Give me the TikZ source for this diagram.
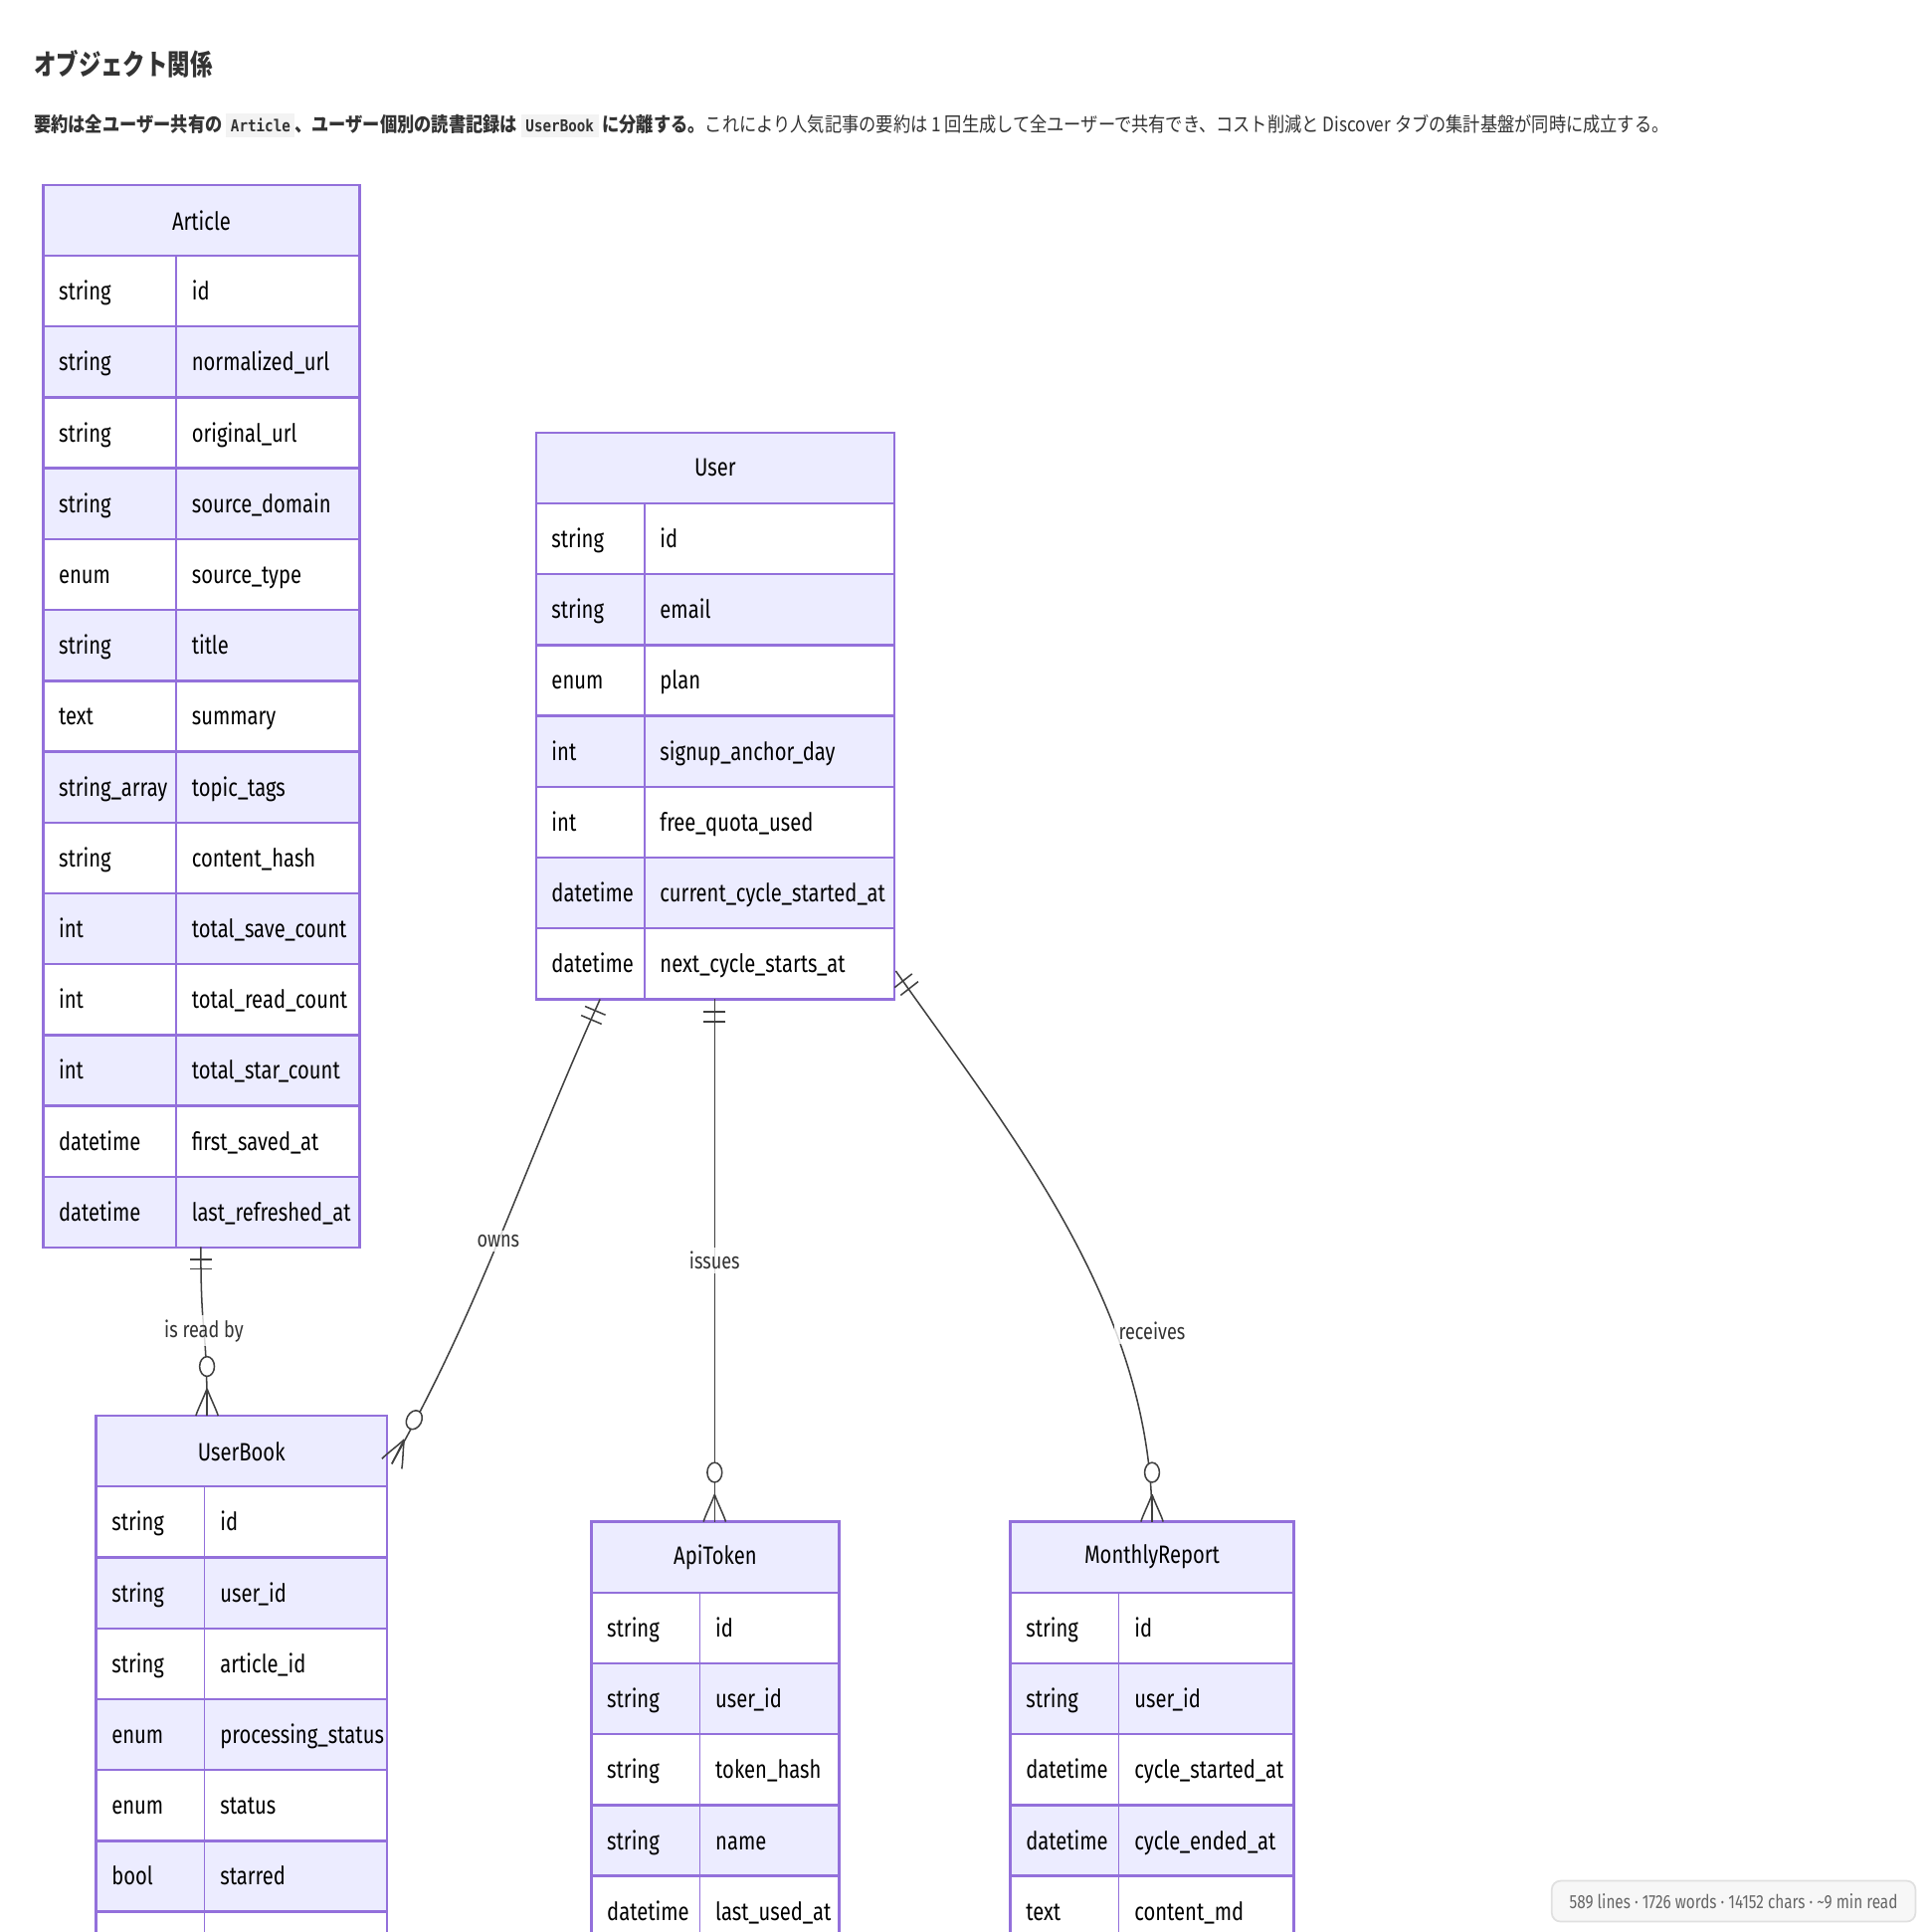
\documentclass[tikz,border=0pt]{standalone}
\usepackage{fontspec}
\setmainfont{Fira Sans}[FakeStretch=0.8]
\setmonofont{DejaVu Sans Mono}
\newfontfamily\cjk{Noto Sans CJK JP}
\usetikzlibrary{calc}
\definecolor{erfill}{HTML}{ECECFF}
\definecolor{erline}{HTML}{9370DB}
\definecolor{codebg}{HTML}{F3F3F3}

% one entity: name, left x, top y, width, split x, rows type/field
\newcommand\erentity[6]{%
  \node[erhead, minimum width=#4*0.01cm] (#1) at (#2+#4/2, #3+28.75) {#1};
  \foreach [count=\i] \t/\f in {#6} {
    \ifodd\i\def\rowfill{white}\else\def\rowfill{erfill}\fi
    \draw[erbox, fill=\rowfill] (#2, #3+57.5*\i) rectangle (#2+#4, #3+57.5*\i+57.5);
    \draw[erline, line width=0.4pt] (#5, #3+57.5*\i) -- (#5, #3+57.5*\i+57.5);
    \node[ertext] at (#2+12, #3+57.5*\i+36) {\t};
    \node[ertext] at (#5+12, #3+57.5*\i+36) {\f};
  }
}
% crow's foot with ring at #1, pointing to angle #2
\newcommand\zeromany[2]{%
  \begin{scope}[shift={#1}, rotate=#2]
    \draw[rel] (0,-9) .. controls (4,-8) and (14,-3) .. (22,0);
    \draw[rel] (0,9) .. controls (4,8) and (14,3) .. (22,0);
    \draw[rel] (0,0) -- (22,0);
    \draw[rel, fill=white] (40,0) ellipse (8 and 6);
  \end{scope}}
% two bars at #1, pointing to angle #2
\newcommand\oneonly[2]{%
  \begin{scope}[shift={#1}, rotate=#2]
    \draw[rel] (10,-9) -- (10,9);
    \draw[rel] (18,-9) -- (18,9);
  \end{scope}}

\begin{document}
\begin{tikzpicture}
    [x = 0.01cm, y = -0.01cm,
    erbox/.style = {draw = erline, line width = 0.55pt},
    erhead/.style = {
       draw = erline,
       fill = erfill,
       line width = 0.55pt,
       minimum height = 0.575cm,
       inner sep = 0pt,
       font = \fontsize{5.8pt}{6pt}\selectfont
    },
    ertext/.style = {anchor = base west, inner sep = 0pt, font = \fontsize{5.8pt}{6pt}\selectfont},
    rel/.style = {draw = black!75, line width = 0.35pt},
    lbl/.style = {fill = white, fill opacity = 0.8, text opacity = 1, inner sep = 1pt,
       font = \fontsize{5.2pt}{5.5pt}\selectfont, text = black!80}]

    \clip (0,0) rectangle (1568,1568);
    \fill[white] (0,0) rectangle (1568,1568);

    \node[anchor = west, inner sep = 0pt, text = black!80] (title) at (27,52)
       {\scalebox{0.78}[1]{\cjk\bfseries\fontsize{6.6pt}{7pt}\selectfont オブジェクト関係}};
    \node[anchor = west, inner sep = 0pt, text = black!80] (intro) at (27,102)
       {\scalebox{0.86}[1]{\cjk\fontsize{4.6pt}{5pt}\selectfont\setlength\fboxsep{1.2pt}%
        \textbf{要約は全ユーザー共有の \colorbox{codebg}{\ttfamily\fontsize{3.8pt}{4pt}\selectfont Article}、ユーザー個別の読書記録は \colorbox{codebg}{\ttfamily\fontsize{3.8pt}{4pt}\selectfont UserBook} に分離する。}これにより人気記事の要約は 1 回生成して全ユーザーで共有でき、コスト削減と Discover タブの集計基盤が同時に成立する。}};

    \erentity{Article}{35}{150}{257}{143}{string/id, string/normalized\_url, string/original\_url,
       string/source\_domain, enum/source\_type, string/title, text/summary, string\_array/topic\_tags,
       string/content\_hash, int/total\_save\_count, int/total\_read\_count, int/total\_star\_count,
       datetime/first\_saved\_at, datetime/last\_refreshed\_at}
    \erentity{User}{435}{351}{291}{523}{string/id, string/email, enum/plan, int/signup\_anchor\_day,
       int/free\_quota\_used, datetime/current\_cycle\_started\_at, datetime/next\_cycle\_starts\_at}
    \erentity{UserBook}{78}{1149}{236}{166}{string/id, string/user\_id, string/article\_id,
       enum/processing\_status, enum/status, bool/starred, {}/{}}
    \erentity{ApiToken}{480}{1235}{201}{568}{string/id, string/user\_id, string/token\_hash,
       string/name, datetime/last\_used\_at}
    \erentity{MonthlyReport}{820}{1235}{230}{908}{string/id, string/user\_id, datetime/cycle\_started\_at,
       datetime/cycle\_ended\_at, text/content\_md}

    % relations
    \coordinate (artBot) at (163,1012);
    \coordinate (ubTop) at (168,1149);
    \coordinate (usrA) at (487,811);
    \coordinate (ubCorner) at (318,1188);
    \coordinate (usrB) at (580,811);
    \coordinate (apiTop) at (580,1235);
    \coordinate (usrC) at (727,788);
    \coordinate (mrTop) at (935,1235);

    \draw[rel] (artBot) .. controls (163,1090) and (168,1070) .. (ubTop)
       node[lbl, pos = 0.5] {is read by};
    \draw[rel] (usrA) .. controls (420,960) and (390,1060) .. (ubCorner)
       node[lbl, pos = 0.5] {owns};
    \draw[rel] (usrB) -- (apiTop) node[lbl, pos = 0.5] {issues};
    \draw[rel] (usrC) .. controls (820,920) and (935,1060) .. (mrTop);
    \node[lbl] (recv) at (935,1080) {receives};

    \oneonly{(artBot)}{-90}
    \zeromany{(ubTop)}{90}
    \oneonly{(usrA)}{-113}
    \zeromany{(ubCorner)}{63}
    \oneonly{(usrB)}{-90}
    \zeromany{(apiTop)}{90}
    \oneonly{(usrC)}{-52}
    \zeromany{(mrTop)}{90}

    \node[draw = black!12, fill = black!3, rounded corners = 2pt, minimum width = 2.95cm,
       minimum height = 0.33cm, inner sep = 0pt, text = black!60,
       font = \fontsize{4.4pt}{4.5pt}\selectfont] (stats) at (1407,1543)
       {589 lines · 1726 words · 14152 chars · \textasciitilde 9 min read};
\end{tikzpicture}
\end{document}
